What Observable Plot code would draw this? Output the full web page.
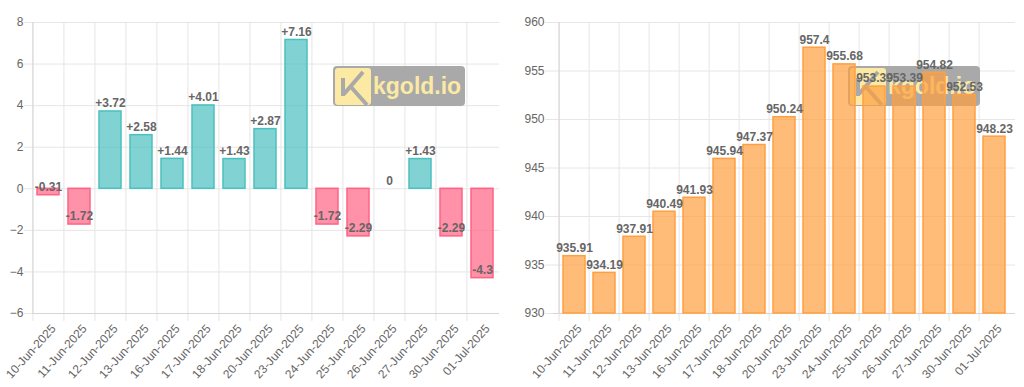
<!DOCTYPE html>
<html><head><meta charset="utf-8">
<script src="https://cdn.jsdelivr.net/npm/d3@7"></script>
<script src="https://cdn.jsdelivr.net/npm/@observablehq/plot@0.6"></script>
<style>
body{margin:0;background:#fff;font-family:"Liberation Sans",Arial,sans-serif;}
#wrap{display:flex;width:1024px;height:387px;overflow:hidden;}
#wrap svg{display:block;}
</style></head><body><div id="wrap"></div>
<script>
const dates = ["10-Jun-2025","11-Jun-2025","12-Jun-2025","13-Jun-2025","16-Jun-2025","17-Jun-2025","18-Jun-2025","20-Jun-2025","23-Jun-2025","24-Jun-2025","25-Jun-2025","26-Jun-2025","27-Jun-2025","30-Jun-2025","01-Jul-2025"];
const changes = [-0.31,-1.72,3.72,2.58,1.44,4.01,1.43,2.87,7.16,-1.72,-2.29,0,1.43,-2.29,-4.3];
const prices = [935.91,934.19,937.91,940.49,941.93,945.94,947.37,950.24,957.4,955.68,953.39,953.39,954.82,952.53,948.23];
const changeTicks = [-6,-4,-2,0,2,4,6,8];
const priceTicks = [930,935,940,945,950,955,960];
const watermarkText = "kgold.io";

const GRID = "#e6e6e6";
const FONT = "Liberation Sans, Arial, Helvetica, sans-serif";

function watermark(x0, y0) {
  return () => {
    const g = d3.create("svg:g").attr("transform", `translate(${x0},${y0})`);
    g.append("rect").attr("width", 132).attr("height", 40).attr("rx", 4).attr("fill", "#a9a9a9");
    g.append("rect").attr("x", 2).attr("y", 2).attr("width", 36).attr("height", 37).attr("rx", 3).attr("fill", "#fbe9a4");
    g.append("path").attr("d", "M10 12 V30 M11 28 L30 6 M18 21 L34 39")
      .attr("stroke", "#a9a9a9").attr("stroke-width", 4).attr("fill", "none");
    g.append("text").attr("x", 40).attr("y", 28).attr("font-size", 23).attr("font-weight", "bold")
      .attr("text-anchor", "start").attr("font-family", FONT).attr("fill", "#fbe9a4").text(watermarkText);
    return g.node();
  };
}

function chart({width, marginLeft, marginRight, values, yDomain, yTicks, base, pos, neg, fmt, wx}) {
  const rows = dates.map((d, i) => ({date: d, value: values[i]}));
  const step = (width - marginLeft - marginRight) / dates.length;
  return Plot.plot({
    width, height: 387, marginTop: 22, marginBottom: 74, marginLeft, marginRight,
    style: {fontFamily: FONT, fontSize: "12px", color: "#666", background: "#fff", overflow: "visible"},
    x: {domain: dates, type: "band", paddingInner: 0.28, paddingOuter: 0.14, axis: null, label: null},
    y: {domain: yDomain, axis: null, label: null},
    marks: [
      Plot.ruleY(yTicks, {stroke: GRID, insetLeft: -8}),
      Plot.ruleX(dates, {x: d => d, dx: -step / 2, stroke: GRID, insetBottom: -8}),
      Plot.ruleX(dates.slice(0, 1), {x: d => d, dx: -step / 2, stroke: "#d6d6d6"}),
      Plot.ruleY(yTicks.slice(0, 1), {stroke: "#d6d6d6"}),
      watermark(wx, 66),
      Plot.barY(rows.filter(r => r.value > base), {x: "date", y1: base, y2: "value", fill: pos[0], stroke: pos[1], strokeWidth: 1.5}),
      Plot.barY(rows.filter(r => r.value < base), {x: "date", y1: base, y2: "value", fill: neg[0], stroke: neg[1], strokeWidth: 1.5}),
      Plot.text(rows, {x: "date", y: "value", text: d => fmt(d.value), dy: -8, fill: "#666", fontWeight: "bold", fontSize: 12}),
      Plot.axisY(yTicks, {tickSize: 0, tickPadding: 9, fill: "#666", fontSize: 12, label: null}),
      Plot.axisX({tickRotate: -48, tickSize: 0, tickPadding: 13, dx: 5, fill: "#666", fontSize: 12, label: null})
    ]
  });
}

const wrap = document.getElementById("wrap");
wrap.append(chart({
  width: 512, marginLeft: 32, marginRight: 13, values: changes, yDomain: [-6, 8], yTicks: changeTicks, base: 0,
  pos: ["rgba(75,192,192,0.7)", "rgb(75,192,192)"], neg: ["rgba(255,99,132,0.7)", "rgb(255,99,132)"],
  fmt: v => v > 0 ? "+" + v : String(v), wx: 333
}));
wrap.append(chart({
  width: 512, marginLeft: 41, marginRight: 9, values: prices, yDomain: [930, 960], yTicks: priceTicks, base: 930,
  pos: ["rgba(255,159,64,0.7)", "rgb(255,159,64)"], neg: ["rgba(255,159,64,0.7)", "rgb(255,159,64)"],
  fmt: v => String(v), wx: 336
}));
</script></body></html>
